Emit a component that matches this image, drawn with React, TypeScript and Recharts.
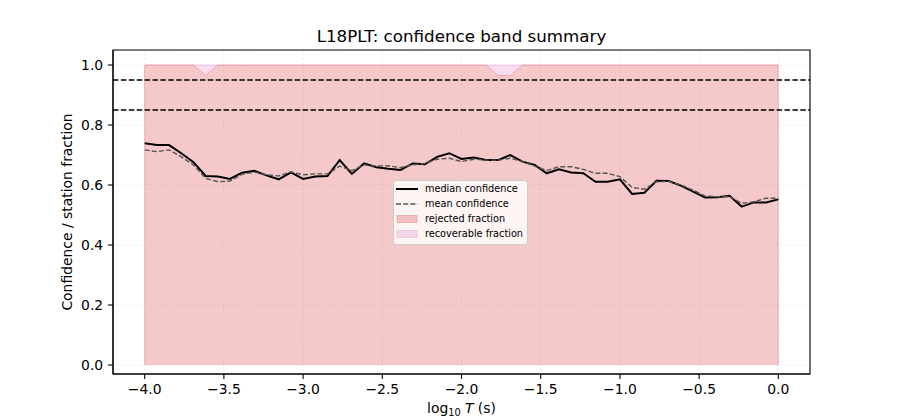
import {
  Area,
  CartesianGrid,
  ComposedChart,
  Line,
  ReferenceArea,
  ReferenceLine,
  XAxis,
  YAxis,
} from "recharts";

const FONT = '"DejaVu Sans", "Noto Sans", sans-serif';

// log10 T grid (s)
const LOG_T = [
  -4.0, -3.923, -3.846, -3.769, -3.692, -3.615, -3.538, -3.462, -3.385, -3.308, -3.231, -3.154, -3.077,
  -3.0, -2.923, -2.846, -2.769, -2.692, -2.615, -2.538, -2.462, -2.385, -2.308, -2.231, -2.154, -2.077,
  -2.0, -1.923, -1.846, -1.769, -1.692, -1.615, -1.538, -1.462, -1.385, -1.308, -1.231, -1.154, -1.077,
  -1.0, -0.923, -0.846, -0.769, -0.692, -0.615, -0.538, -0.462, -0.385, -0.308, -0.231, -0.154, -0.077,
  0.0,
];

const MEDIAN = [
  0.739, 0.733, 0.733, 0.706, 0.676, 0.63, 0.628, 0.62, 0.641, 0.647, 0.632, 0.619, 0.642,
  0.62, 0.628, 0.63, 0.683, 0.637, 0.672, 0.659, 0.654, 0.65, 0.672, 0.669, 0.694, 0.706,
  0.687, 0.692, 0.683, 0.683, 0.7, 0.678, 0.667, 0.639, 0.652, 0.642, 0.639, 0.611, 0.611,
  0.619, 0.57, 0.574, 0.614, 0.613, 0.598, 0.578, 0.558, 0.559, 0.564, 0.528, 0.542, 0.542,
  0.552,
];

const MEAN = [
  0.717, 0.711, 0.717, 0.694, 0.667, 0.622, 0.611, 0.613, 0.636, 0.643, 0.634, 0.63, 0.644,
  0.634, 0.637, 0.637, 0.663, 0.648, 0.667, 0.663, 0.664, 0.658, 0.667, 0.672, 0.686, 0.689,
  0.678, 0.686, 0.683, 0.683, 0.689, 0.678, 0.663, 0.648, 0.661, 0.661, 0.652, 0.639, 0.639,
  0.628, 0.592, 0.586, 0.611, 0.612, 0.6, 0.583, 0.563, 0.561, 0.561, 0.539, 0.544, 0.556,
  0.556,
];

const REJECTED = [
  1, 1, 1, 1, 1, 0.965, 1, 1, 1, 1, 1, 1, 1,
  1, 1, 1, 1, 1, 1, 1, 1, 1, 1, 1, 1, 1,
  1, 1, 1, 0.965, 0.965, 1, 1, 1, 1, 1, 1, 1, 1,
  1, 1, 1, 1, 1, 1, 1, 1, 1, 1, 1, 1, 1,
  1,
];

const RECOVERABLE = [
  0, 0, 0, 0, 0, 0.035, 0, 0, 0, 0, 0, 0, 0,
  0, 0, 0, 0, 0, 0, 0, 0, 0, 0, 0, 0, 0,
  0, 0, 0, 0.035, 0.035, 0, 0, 0, 0, 0, 0, 0, 0,
  0, 0, 0, 0, 0, 0, 0, 0, 0, 0, 0, 0, 0,
  0,
];

const THRESHOLDS = [0.95, 0.85];
const X_TICKS = [-4, -3.5, -3, -2.5, -2, -1.5, -1, -0.5, 0];
const Y_TICKS = [0, 0.2, 0.4, 0.6, 0.8, 1.0];
const X_DOMAIN = [-4.2, 0.2];
const Y_DOMAIN = [-0.03, 1.05];

const rows = LOG_T.map((x, i) => ({
  x,
  median: MEDIAN[i],
  mean: MEAN[i],
  rejected: REJECTED[i],
  recoverable: RECOVERABLE[i],
}));

const RED = "#d62728";
const PINK = "#e377c2";

function fmt(v: number) {
  return (v < 0 ? "\u2212" : "") + Math.abs(v).toFixed(1);
}

function XTick({ x, y, payload }: any) {
  return (
    <text x={x} y={y + 10.6} textAnchor="middle" fontSize={13.9} fontFamily={FONT} fill="#000">
      {fmt(payload.value)}
    </text>
  );
}

function YTick({ x, y, payload }: any) {
  return (
    <text x={x} y={y + 5} textAnchor="end" fontSize={13.9} fontFamily={FONT} fill="#000">
      {fmt(payload.value)}
    </text>
  );
}

function Overlay() {
  const items = ["median confidence", "mean confidence", "rejected fraction", "recoverable fraction"];
  return (
    <svg
      width={900}
      height={420}
      style={{ position: "absolute", left: 0, top: 0, pointerEvents: "none" }}
      fontFamily={FONT}
    >
      <text x={461.5} y={42} textAnchor="middle" fontSize={16.7} fill="#000">
        L18PLT: confidence band summary
      </text>
      <text
        transform="translate(72,212) rotate(-90)"
        textAnchor="middle"
        fontSize={13.9}
        fill="#000"
      >
        Confidence / station fraction
      </text>
      <text x={461.5} y={413} textAnchor="middle" fontSize={13.9} fill="#000">
        log
        <tspan dy={3} fontSize={9.7}>10</tspan>
        <tspan dy={-3} fontStyle="italic"> T</tspan>
        <tspan> (s)</tspan>
      </text>

      <rect x={393.5} y={180.5} width={134} height={64} rx={3} fill="#fff" fillOpacity={0.8} stroke="#cccccc" />
      <line x1={396} x2={418} y1={189} y2={189} stroke="#000" strokeWidth={2} />
      <line x1={396} x2={418} y1={204} y2={204} stroke="#555" strokeWidth={1.4} strokeDasharray="5 2.2" />
      <rect x={397} y={215.5} width={20} height={7} fill={RED} fillOpacity={0.25} stroke={RED} strokeOpacity={0.25} />
      <rect x={397} y={230.5} width={20} height={7} fill={PINK} fillOpacity={0.25} stroke={PINK} strokeOpacity={0.25} />
      {items.map((t, i) => (
        <text key={t} x={425} y={189 + i * 15 + 3.4} fontSize={9.72} fill="#000">
          {t}
        </text>
      ))}
    </svg>
  );
}

export default function App() {
  const axisStyle = { stroke: "#000", strokeWidth: 1.1 };
  return (
    <div style={{ position: "absolute", left: 0, top: 0, width: 900, height: 420, background: "#fff" }}>
      <ComposedChart width={900} height={420} data={rows} margin={{ top: 50, right: 90, bottom: 0, left: 0 }}>
        <CartesianGrid stroke="#b0b0b0" strokeOpacity={0.45} strokeDasharray="1.2 3" strokeWidth={0.8} />
        <XAxis
          dataKey="x"
          type="number"
          domain={X_DOMAIN}
          ticks={X_TICKS}
          allowDataOverflow
          height={46}
          tickSize={4.9}
          tickMargin={4.9}
          tick={<XTick />}
          axisLine={axisStyle}
          tickLine={axisStyle}
        />
        <YAxis
          type="number"
          domain={Y_DOMAIN}
          ticks={Y_TICKS}
          allowDataOverflow
          width={113}
          tickSize={4.9}
          tickMargin={4.9}
          tick={<YTick />}
          axisLine={axisStyle}
          tickLine={axisStyle}
        />
        <Area
          dataKey="rejected"
          stackId="band"
          type="linear"
          fill={RED}
          fillOpacity={0.25}
          stroke={RED}
          strokeOpacity={0.25}
          isAnimationActive={false}
        />
        <Area
          dataKey="recoverable"
          stackId="band"
          type="linear"
          fill={PINK}
          fillOpacity={0.25}
          stroke={PINK}
          strokeOpacity={0.3}
          isAnimationActive={false}
        />
        <ReferenceLine segment={[{ x: -4, y: 0 }, { x: -4, y: 1 }]} stroke={RED} strokeOpacity={0.25} />
        <ReferenceLine segment={[{ x: 0, y: 0 }, { x: 0, y: 1 }]} stroke={RED} strokeOpacity={0.25} />
        <Line
          dataKey="median"
          type="linear"
          stroke="#000"
          strokeWidth={2}
          dot={false}
          activeDot={false}
          isAnimationActive={false}
        />
        <Line
          dataKey="mean"
          type="linear"
          stroke="#555"
          strokeWidth={1.4}
          strokeDasharray="5 2.2"
          dot={false}
          activeDot={false}
          isAnimationActive={false}
        />
        {THRESHOLDS.map((t) => (
          <ReferenceLine key={t} y={t} stroke="#000" strokeWidth={1.3} strokeDasharray="5.5 2.4" />
        ))}
        <ReferenceArea
          x1={X_DOMAIN[0]}
          x2={X_DOMAIN[1]}
          y1={Y_DOMAIN[0]}
          y2={Y_DOMAIN[1]}
          fill="none"
          stroke="#000"
          strokeWidth={1.1}
          ifOverflow="visible"
        />
      </ComposedChart>
      <Overlay />
    </div>
  );
}
